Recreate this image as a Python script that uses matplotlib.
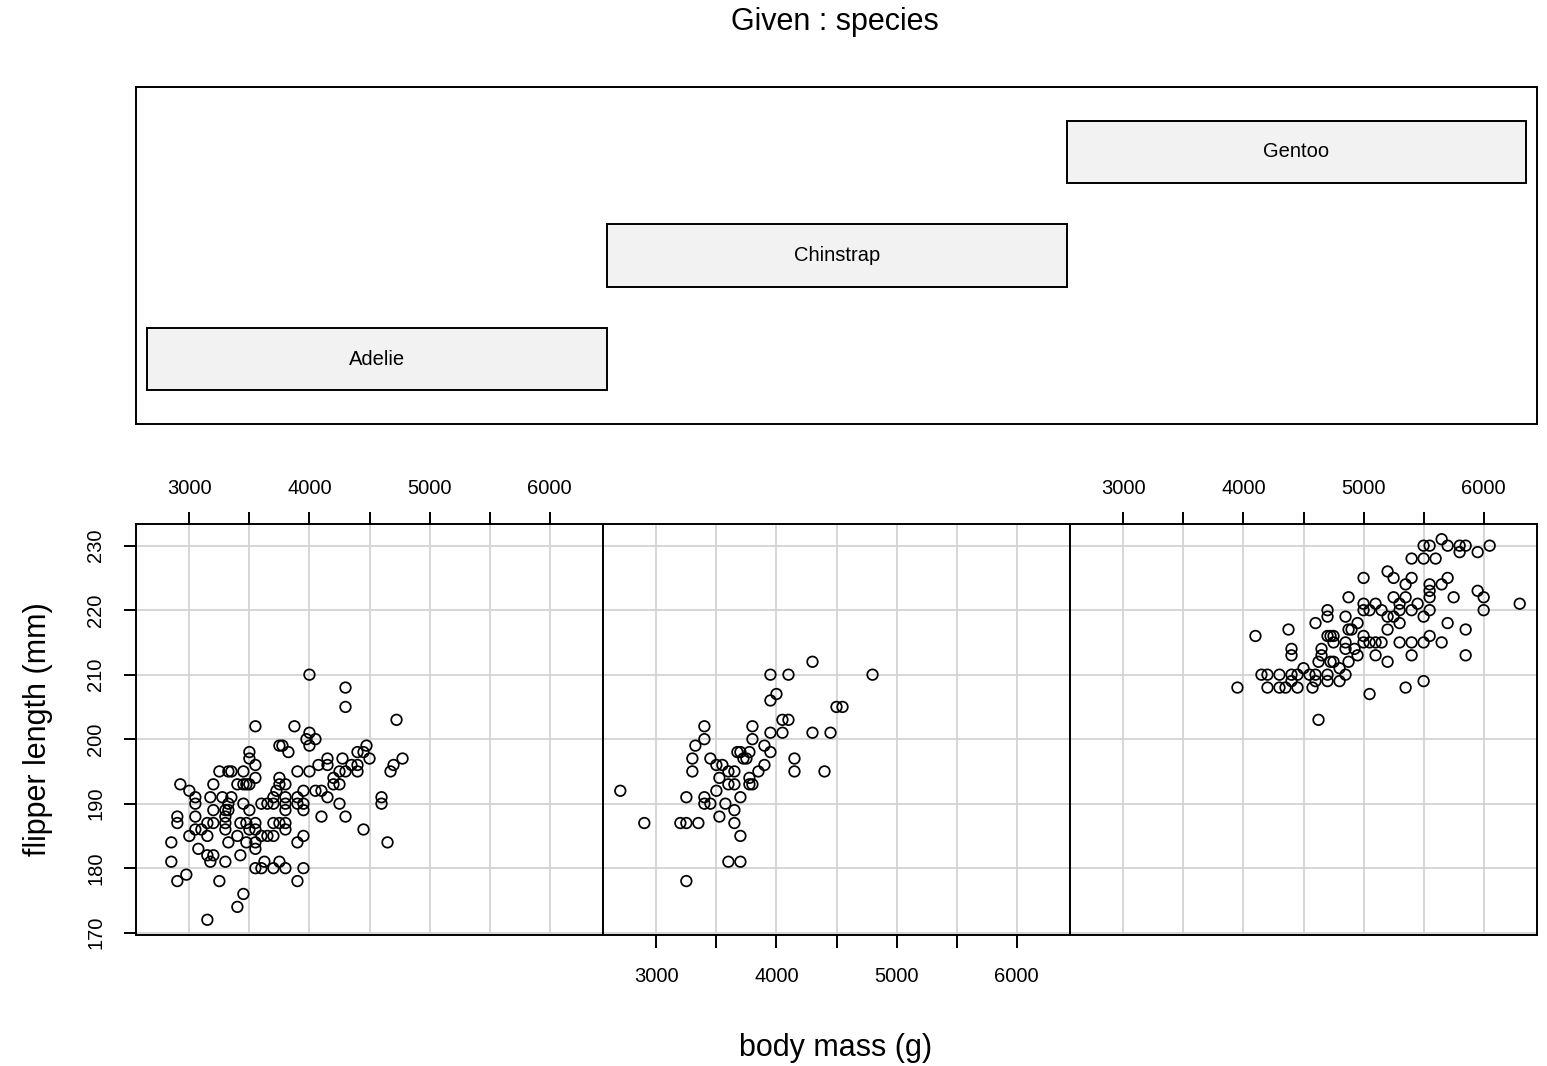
import matplotlib
matplotlib.use("Agg")
import matplotlib.pyplot as plt
import numpy as np

plt.rcParams['font.family'] = ['Liberation Sans', 'DejaVu Sans']

species = ["Adelie", "Chinstrap", "Gentoo"]

adelie_mass = [3550, 3500, 3500, 3550, 3550, 3250, 3325, 3350, 3450, 2925, 3000, 3050, 3050,
               3200, 3175, 3275, 3350, 3325, 3400, 3450, 3475, 3500, 3450, 3325, 3200, 3300,
               3300, 3500, 2900, 2900, 3050, 3150, 3200, 3300, 3300, 3425, 3475, 3550, 3050,
               3100, 3000, 3150, 3500, 3550, 3400, 2850, 3325, 3475, 3550, 3550, 3075, 3150,
               3200, 3175, 3300, 3425, 2850, 2975, 2900, 3250, 3450, 3400, 3150, 3550, 3600,
               3700, 3625, 3600, 3650, 3700, 3700, 3600, 3650, 3700, 3725, 3700,
               4000, 4300, 4300, 4725, 3875, 4000, 3975, 4050, 4000, 3775, 3750, 3825, 4475,
               4400, 4450, 4500, 4150, 4150, 4075, 4275, 4350, 4400, 4400, 4250, 4300, 4200,
               4200, 4250, 3900, 4000, 4775, 4700, 4675, 3750, 3750, 3800, 3950, 4050, 4100,
               4150, 3900, 3800, 3800, 3900, 3950, 3800, 3950, 4250, 4600, 4600, 4100, 4300,
               4450, 3800, 3800, 3950, 3900, 4650, 3750, 3800, 3950, 3900, 3750]
adelie_flipper = [202, 198, 197, 196, 194, 195, 195, 195, 195, 193, 192, 191, 190,
                  193, 191, 191, 191, 190, 193, 193, 193, 193, 190, 189, 189, 189,
                  188, 189, 188, 187, 188, 187, 187, 187, 186, 187, 187, 187, 186,
                  186, 185, 185, 186, 186, 185, 184, 184, 184, 184, 183, 183, 182,
                  182, 181, 181, 182, 181, 179, 178, 178, 176, 174, 172, 180, 180,
                  180, 181, 190, 190, 190, 187, 185, 185, 185, 192, 191,
                  210, 208, 205, 203, 202, 201, 200, 200, 199, 199, 199, 198, 199,
                  198, 198, 197, 197, 196, 196, 197, 196, 196, 195, 195, 195, 194,
                  193, 193, 195, 195, 197, 196, 195, 194, 193, 193, 192, 192, 192,
                  191, 191, 191, 190, 190, 190, 189, 189, 190, 191, 190, 188, 188,
                  186, 187, 186, 185, 184, 184, 181, 180, 180, 178, 187]

chinstrap_mass = [2700, 2900, 3200, 3250, 3350, 3250, 3250, 3300, 3300, 3325, 3400, 3400,
                  3450, 3400, 3400, 3450, 3500, 3525, 3500, 3550, 3525, 3575, 3600, 3650,
                  3600, 3650, 3650, 3650, 3675, 3700, 3700, 3700, 3600, 3700,
                  4300, 3950, 4100, 4800, 4000, 3950, 4500, 4550, 4050, 4100, 3800, 3950,
                  4050, 4300, 4450, 3800, 3900, 3775, 3950, 3725, 3750, 4150, 4150, 4400,
                  3900, 3850, 3775, 3775, 3800]
chinstrap_flipper = [192, 187, 187, 187, 187, 178, 191, 195, 197, 199, 200, 202,
                     197, 191, 190, 190, 192, 194, 196, 196, 188, 190, 195, 195,
                     193, 193, 189, 187, 198, 198, 191, 185, 181, 181,
                     212, 210, 210, 210, 207, 206, 205, 205, 203, 203, 202, 201,
                     201, 201, 201, 200, 199, 198, 198, 197, 197, 197, 195, 195,
                     196, 195, 194, 193, 193]

gentoo_mass = [3950, 4100, 4150, 4200, 4200, 4300, 4300, 4350, 4400, 4400, 4375, 4400,
               4450, 4400, 4450, 4500, 4550, 4600, 4575, 4600, 4600, 4625, 4625, 4650,
               4650, 4700, 4700, 4700, 4725, 4750, 4750, 4700, 4700, 4725, 4750, 4800,
               4800, 4850, 4850, 4875, 4875, 4900, 4850, 4850, 4875, 4925, 4950, 4950,
               5000, 5000, 5000, 5050, 5000, 5000, 5050, 5050,
               5650, 5500, 5550, 5700, 5800, 5850, 5800, 5950, 6050, 5400, 5500, 5600,
               5200, 5250, 5400, 5350, 5550, 5550, 5550, 5650, 5700, 5750, 5950, 6000,
               6300, 6000, 5100, 5250, 5350, 5150, 5300, 5300, 5400, 5450, 5200, 5250,
               5300, 5500, 5550, 5700, 5850, 5200, 5550, 5100, 5150, 5300, 5400, 5500,
               5650, 5100, 5200, 5400, 5850, 5500, 5350]
gentoo_flipper = [208, 216, 210, 210, 208, 210, 208, 208, 214, 213, 217, 210,
                  210, 209, 208, 211, 210, 210, 208, 209, 218, 203, 212, 214,
                  213, 220, 219, 216, 216, 216, 215, 210, 209, 212, 212, 211,
                  209, 210, 219, 222, 217, 217, 215, 214, 212, 214, 218, 213,
                  225, 221, 220, 220, 216, 215, 215, 207,
                  231, 230, 230, 230, 230, 230, 229, 229, 230, 228, 228, 228,
                  226, 225, 225, 224, 224, 223, 222, 224, 225, 222, 223, 222,
                  221, 220, 221, 222, 222, 220, 221, 220, 220, 221, 219, 219,
                  218, 219, 220, 218, 217, 217, 216, 215, 215, 215, 215, 215,
                  215, 213, 212, 213, 213, 209, 208]

masses = [adelie_mass, chinstrap_mass, gentoo_mass]
flippers = [adelie_flipper, chinstrap_flipper, gentoo_flipper]

x_ticks = [3000, 3500, 4000, 4500, 5000, 5500, 6000]
x_ticklabels = ["3000", "", "4000", "", "5000", "", "6000"]
y_ticks = [170, 180, 190, 200, 210, 220, 230]

W, H = 1547, 1066
fig = plt.figure(figsize=(W / 100, H / 100), dpi=100)

lw = 1.4
tick_fs = 14.5
big_fs = 22

# ---- given panel ----
axg = fig.add_axes([136 / W, 1 - 424 / H, (1537 - 136) / W, (424 - 87) / H])
lev = np.arange(1, len(species) + 1)
axg.barh(lev, 1.0, left=lev - 0.5, height=0.6, color="#f2f2f2",
         edgecolor="black", linewidth=lw)
for i, name in zip(lev, species):
    axg.text(i, i, name, ha="center", va="center", fontsize=tick_fs)
axg.set_xlim(0.476, 3.523)
axg.set_ylim(0.372, 3.628)
axg.set_xticks([])
axg.set_yticks([])
for s in axg.spines.values():
    s.set_linewidth(lw)

# ---- conditioning panels ----
edges = [136, 603, 1070, 1537]
for k in range(3):
    ax = fig.add_axes([edges[k] / W, 1 - 935 / H, (edges[k + 1] - edges[k]) / W,
                       (935 - 524) / H])
    ax.set_axisbelow(True)
    ax.scatter(masses[k], flippers[k], s=58, facecolors="none",
               edgecolors="black", linewidths=1.25, zorder=3)
    ax.set_xlim(2556, 6444)
    ax.set_ylim(169.64, 233.36)
    ax.set_xticks(x_ticks)
    ax.set_xticklabels(x_ticklabels)
    ax.set_yticks(y_ticks)
    ax.set_yticklabels([str(v) for v in y_ticks], rotation=90, va="center")
    ax.grid(True, color="#d3d3d3", linewidth=1.3)
    ax.tick_params(direction="out", length=9, width=lw, labelsize=tick_fs)
    ax.tick_params(axis="y", left=(k == 0), labelleft=(k == 0),
                   right=False, labelright=False, pad=13)
    if k == 1:
        ax.tick_params(axis="x", bottom=True, labelbottom=True,
                       top=False, labeltop=False, pad=14)
    else:
        ax.tick_params(axis="x", bottom=False, labelbottom=False,
                       top=True, labeltop=True, pad=9.7)
    for s in ax.spines.values():
        s.set_linewidth(lw)

fig.text(835 / W, 1 - 22 / H, "Given : species", ha="center", va="center",
         fontsize=big_fs)
fig.text(836 / W, 1 - 1048 / H, "body mass (g)", ha="center", va="center",
         fontsize=big_fs)
fig.text(38 / W, 1 - 729 / H, "flipper length (mm)", ha="center", va="center",
         rotation=90, fontsize=big_fs)

fig.savefig("out.png", dpi=100)
